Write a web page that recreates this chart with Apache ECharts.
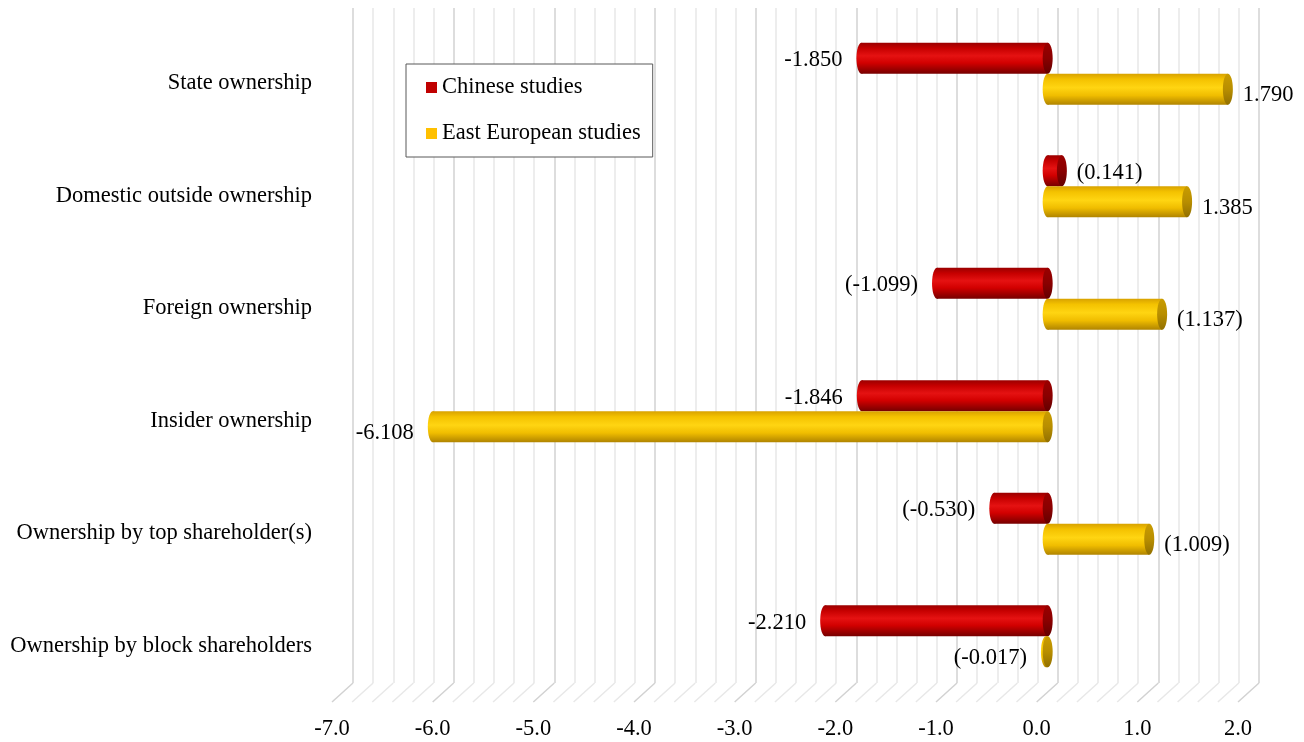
<!DOCTYPE html>
<html>
<head>
<meta charset="utf-8">
<script src="https://cdn.jsdelivr.net/npm/echarts@6/dist/echarts.min.js"></script>
<style>
  html, body { margin: 0; padding: 0; background: #fff; }
  #chart { width: 1304px; height: 742px; }
</style>
</head>
<body>
<div id="chart"></div>
<script>
// Ownership categories, top to bottom
const categories = [
  'State ownership',
  'Domestic outside ownership',
  'Foreign ownership',
  'Insider ownership',
  'Ownership by top shareholder(s)',
  'Ownership by block shareholders'
];

// Effect sizes per group; parenthesised values are shown in brackets
const chineseStudies = [-1.850, 0.141, -1.099, -1.846, -0.530, -2.210];
const chineseInParens = [false, true, true, false, true, false];
const eastEuropeanStudies = [1.790, 1.385, 1.137, -6.108, 1.009, -0.017];
const eastEuropeanInParens = [false, false, true, false, true, true];

// Value axis range and tick spacing
const xMin = -7;
const xMax = 2;
const xMajorStep = 1;
const xMinorSplit = 5;

// Pseudo-3D depth: front floor -> bar plane -> back wall
const DX = 10.5, DY = 9.5;
const BAR_H = 31, CAP_RX = 5;
const FONT = '"Liberation Serif", "Times New Roman", serif';
const FONT_SIZE = 22.5;

const G = echarts.graphic;
const redBody = () => new G.LinearGradient(0, 0, 0, 1, [
  { offset: 0, color: '#9a0000' }, { offset: 0.18, color: '#c60000' },
  { offset: 0.42, color: '#e51212' }, { offset: 0.65, color: '#d20000' },
  { offset: 1, color: '#760000' }]);
const redCap = () => new G.LinearGradient(0, 0, 0, 1, [
  { offset: 0, color: '#9a0000' }, { offset: 0.5, color: '#8a0000' },
  { offset: 1, color: '#640000' }]);
const yelBody = () => new G.LinearGradient(0, 0, 0, 1, [
  { offset: 0, color: '#d8a200' }, { offset: 0.18, color: '#f4c200' },
  { offset: 0.45, color: '#ffd512' }, { offset: 0.7, color: '#f0bd00' },
  { offset: 1, color: '#b08400' }]);
const yelCap = () => new G.LinearGradient(0, 0, 0, 1, [
  { offset: 0, color: '#c99c00' }, { offset: 0.5, color: '#b88e00' },
  { offset: 1, color: '#927000' }]);

function fmt(v, paren) {
  const s = v.toFixed(3);
  return paren ? '(' + s + ')' : s;
}

function cylinderRenderer(values, parens, upper, bodyFill, capFill) {
  return function (params, api) {
    const v = api.value(0), ci = api.value(1);
    const p0 = api.coord([0, ci]);
    const p1 = api.coord([v, ci]);
    const yTop = upper ? p0[1] - BAR_H : p0[1];
    const cy = yTop + BAR_H / 2;
    const xl = Math.min(p0[0], p1[0]);
    const xr = Math.max(p0[0], p1[0]);
    const label = fmt(values[params.dataIndex], parens[params.dataIndex]);
    const neg = v < 0;
    return {
      type: 'group',
      children: [
        { type: 'ellipse', shape: { cx: xl, cy: cy, rx: CAP_RX, ry: BAR_H / 2 }, style: { fill: bodyFill() } },
        { type: 'rect', shape: { x: xl, y: yTop, width: xr - xl, height: BAR_H }, style: { fill: bodyFill() } },
        { type: 'ellipse', shape: { cx: xr, cy: cy, rx: CAP_RX, ry: BAR_H / 2 }, style: { fill: capFill() } },
        {
          type: 'text',
          x: neg ? xl - CAP_RX - 14 : xr + CAP_RX + 10,
          y: cy + (upper ? 2 : 6),
          style: {
            text: label, font: FONT_SIZE + 'px ' + FONT, fill: '#000',
            align: neg ? 'right' : 'left', verticalAlign: 'middle'
          }
        }
      ]
    };
  };
}

// Diagonal floor lines joining the front edge to the back wall
function floorRenderer(params, api) {
  const cs = params.coordSys;
  const bottom = cs.y + cs.height;
  const step = xMajorStep / xMinorSplit;
  const n = Math.round((xMax - xMin) / step);
  const children = [];
  for (let i = 0; i <= n; i++) {
    const v = xMin + i * step;
    const xb = api.coord([v, 0])[0];
    const major = Math.abs(v - Math.round(v)) < 1e-6;
    children.push({
      type: 'line',
      shape: { x1: xb - 2 * DX, y1: bottom + 2 * DY, x2: xb, y2: bottom },
      style: { stroke: major ? '#d2d2d2' : '#e8e8e8', lineWidth: 1.5 }
    });
  }
  return { type: 'group', children: children };
}

const chart = echarts.init(document.getElementById('chart'));
chart.setOption({
  backgroundColor: '#fff',
  animation: false,
  legend: {
    data: ['Chinese studies', 'East European studies'],
    orient: 'vertical',
    left: 406, top: 64,
    icon: 'rect', itemWidth: 11, itemHeight: 11, itemGap: 23,
    padding: [12, 12, 12, 20],
    borderColor: '#595959', borderWidth: 1,
    backgroundColor: '#fff',
    textStyle: { fontFamily: FONT, fontSize: FONT_SIZE, lineHeight: 22, color: '#000' },
    selectedMode: false
  },
  grid: [
    { left: 353, right: 45, top: 8, bottom: 59 },          // back wall
    { left: 343, right: 55, top: 17.5, bottom: 49.5 },      // bar plane
    { left: 332, right: 66, top: 27, bottom: 40 }           // front edge
  ],
  xAxis: [
    {
      gridIndex: 0, type: 'value', min: xMin, max: xMax, interval: xMajorStep,
      axisLabel: { show: false }, axisLine: { show: false }, axisTick: { show: false },
      splitLine: { show: true, lineStyle: { color: '#d2d2d2', width: 1.5 } },
      minorTick: { show: false, splitNumber: xMinorSplit },
      minorSplitLine: { show: true, lineStyle: { color: '#e8e8e8', width: 1.5 } }
    },
    { gridIndex: 1, type: 'value', min: xMin, max: xMax, interval: xMajorStep, show: false, splitLine: { show: false } },
    {
      gridIndex: 2, type: 'value', min: xMin, max: xMax, interval: xMajorStep,
      axisLine: { show: false }, axisTick: { show: false }, splitLine: { show: false },
      axisLabel: { margin: 16, fontFamily: FONT, fontSize: FONT_SIZE, color: '#000', formatter: v => v.toFixed(1) }
    }
  ],
  yAxis: [
    { gridIndex: 0, type: 'category', data: categories, inverse: true, show: false },
    { gridIndex: 1, type: 'category', data: categories, inverse: true, show: false },
    {
      gridIndex: 2, type: 'category', data: categories, inverse: true,
      axisLine: { show: false }, axisTick: { show: false }, splitLine: { show: false },
      axisLabel: { margin: 20, fontFamily: FONT, fontSize: FONT_SIZE, color: '#000' }
    }
  ],
  series: [
    {
      type: 'custom', name: 'floor', xAxisIndex: 0, yAxisIndex: 0, silent: true, clip: false, z: 1,
      data: [[0, 0]], renderItem: floorRenderer
    },
    {
      type: 'custom', name: 'Chinese studies', xAxisIndex: 1, yAxisIndex: 1, clip: false, z: 5,
      itemStyle: { color: '#c00000' },
      data: chineseStudies.map((v, i) => [v, i]),
      renderItem: cylinderRenderer(chineseStudies, chineseInParens, true, redBody, redCap)
    },
    {
      type: 'custom', name: 'East European studies', xAxisIndex: 1, yAxisIndex: 1, clip: false, z: 5,
      itemStyle: { color: '#ffc000' },
      data: eastEuropeanStudies.map((v, i) => [v, i]),
      renderItem: cylinderRenderer(eastEuropeanStudies, eastEuropeanInParens, false, yelBody, yelCap)
    }
  ]
});
</script>
</body>
</html>
